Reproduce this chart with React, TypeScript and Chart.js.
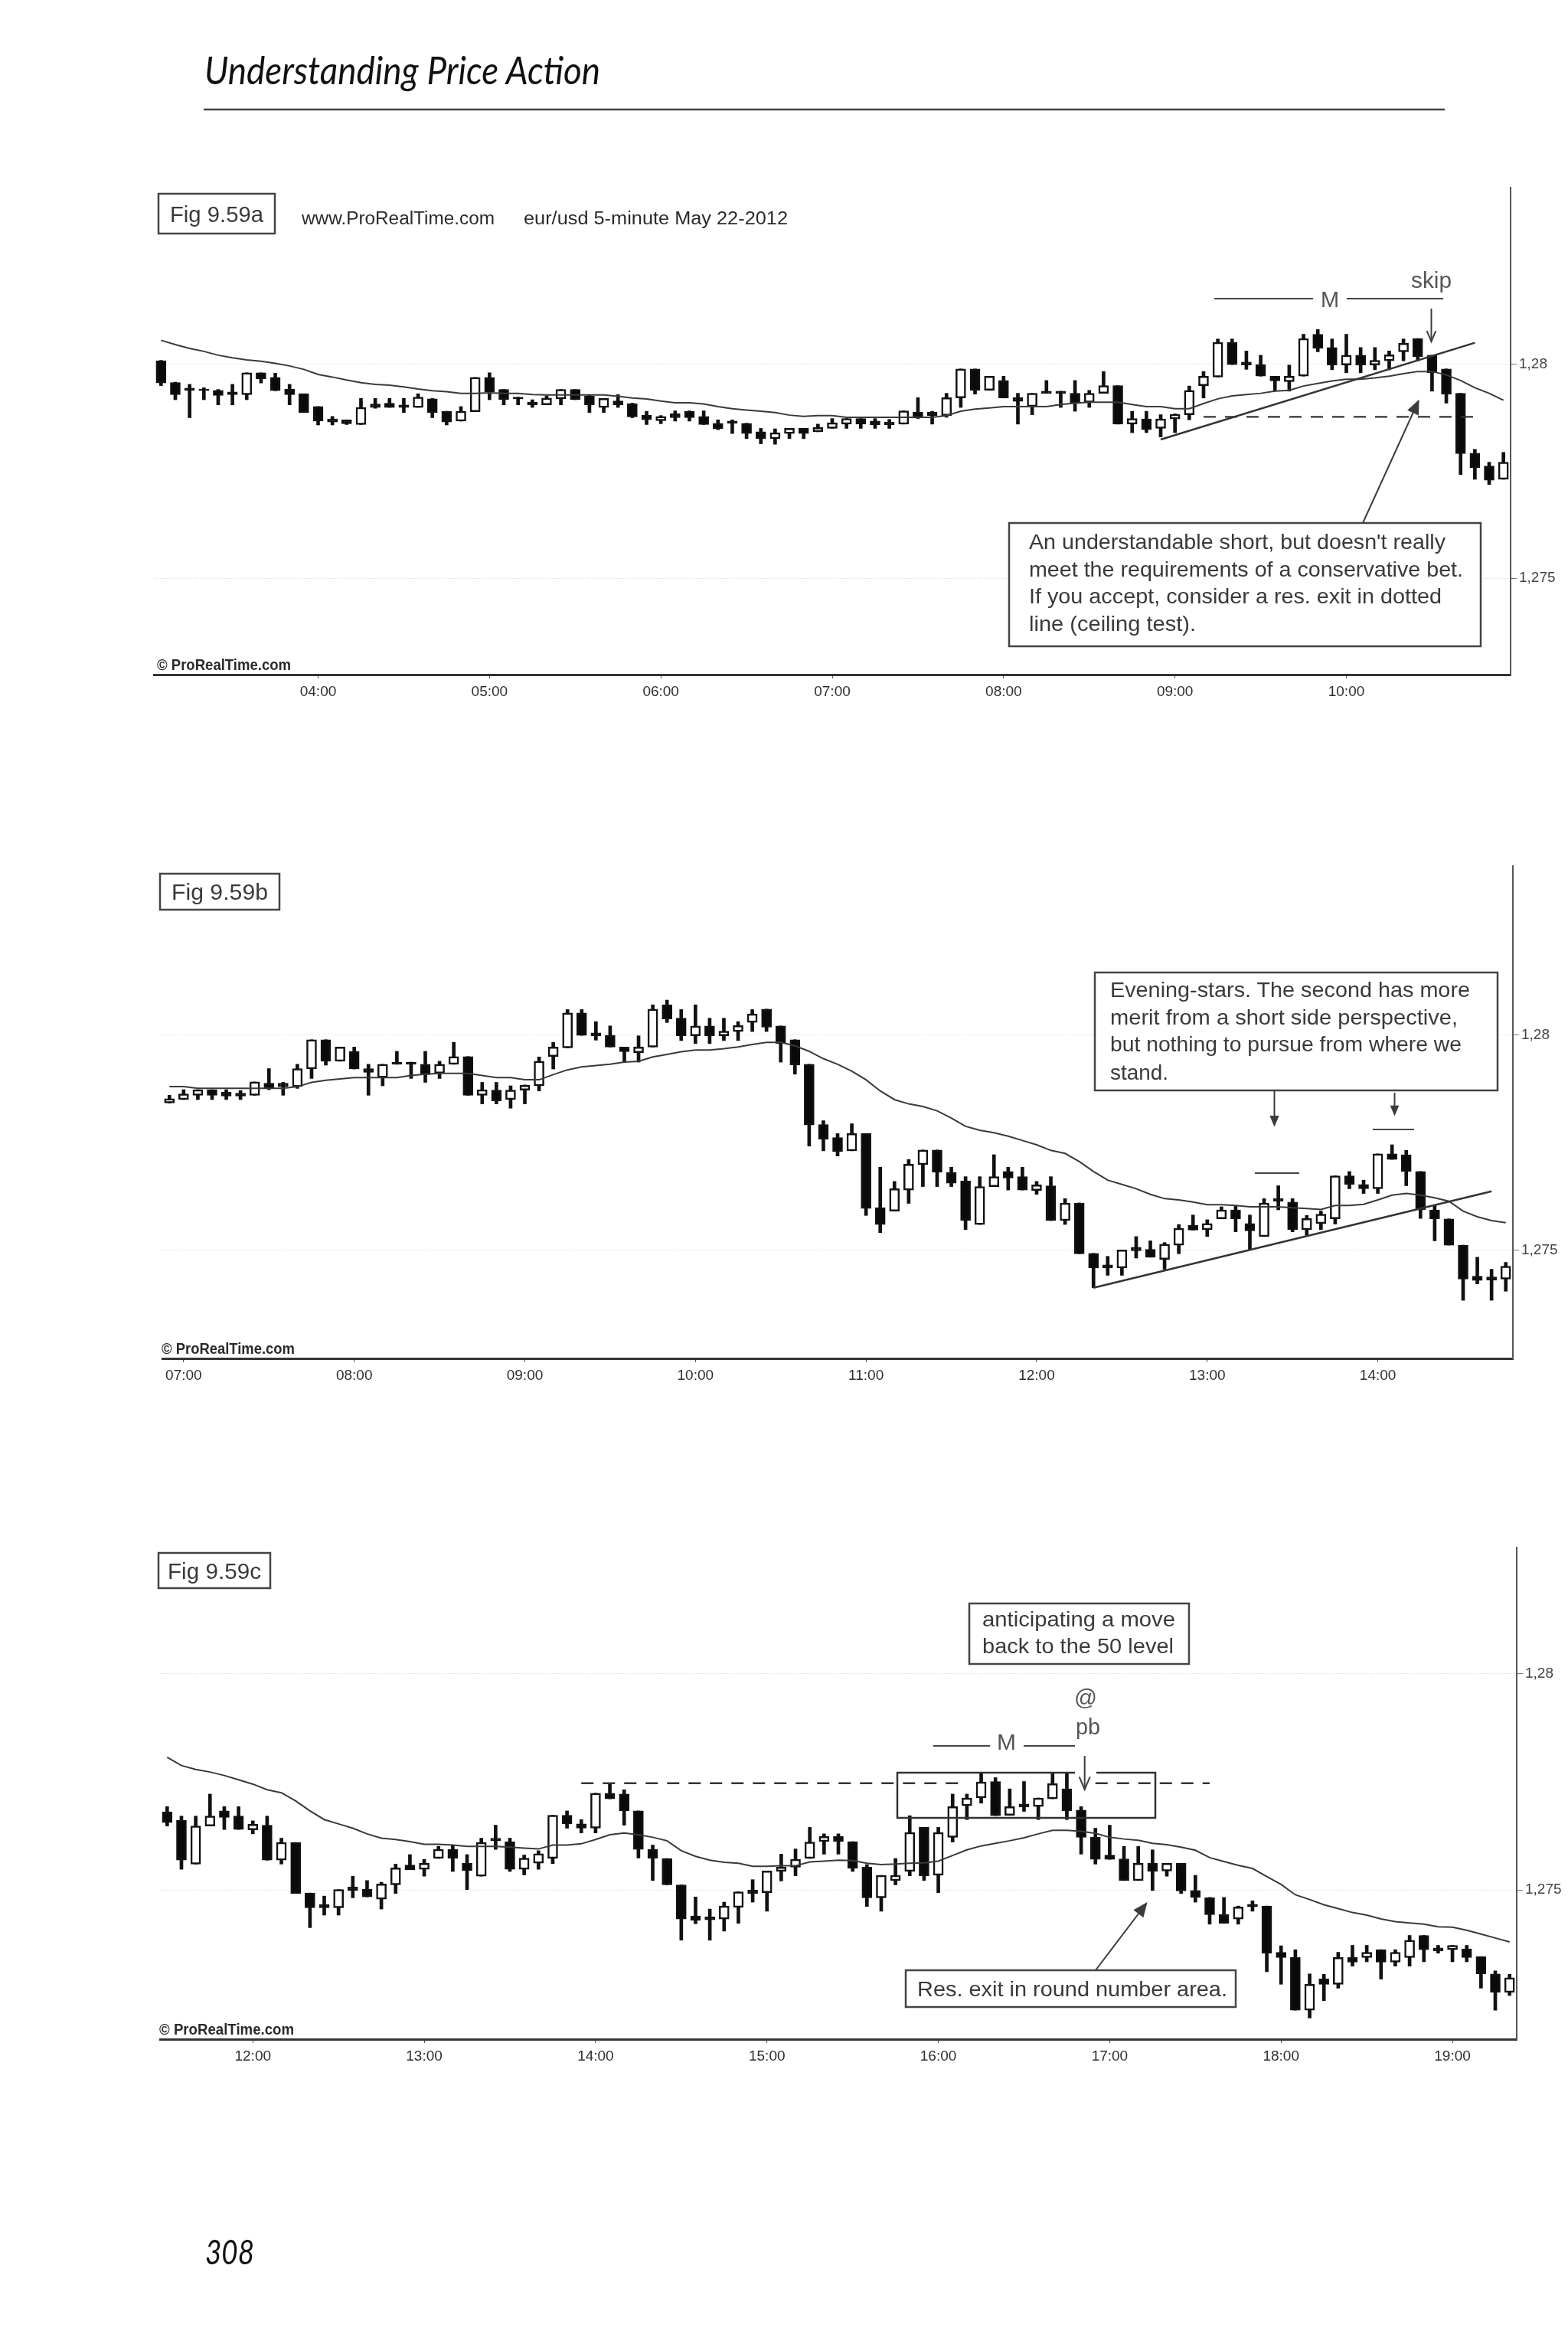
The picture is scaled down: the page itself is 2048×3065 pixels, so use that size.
import { useEffect, useRef } from 'react';
import { Chart, registerables } from 'chart.js';

Chart.register(...registerables);

// eur/usd 5-minute candles, 03:05 to 19:20. Each figure shows a 95 candle window of the same session.
const highs = [
  1.28009, 1.27958, 1.27953, 1.27945, 1.27941, 1.27953, 1.2798, 1.2798, 1.27979, 1.27953, 1.27931, 1.27901,
  1.27878, 1.2787, 1.2792, 1.2792, 1.2792, 1.2792, 1.27931, 1.2792, 1.2789, 1.27901, 1.27969, 1.2798,
  1.27941, 1.27923, 1.27917, 1.27926, 1.27941, 1.27941, 1.27929, 1.2792, 1.27929, 1.27909, 1.2789, 1.2788,
  1.27891, 1.27891, 1.27891, 1.2787, 1.2787, 1.27862, 1.2785, 1.27849, 1.2785, 1.2785,
  1.2786, 1.27873, 1.27873, 1.27873, 1.27873, 1.27871, 1.27891, 1.27922, 1.2789, 1.27932, 1.27989, 1.27989,
  1.27972, 1.27972, 1.27932, 1.27932, 1.27962, 1.27937, 1.27962, 1.27939, 1.27983, 1.2795, 1.2789, 1.2789,
  1.27882, 1.27884, 1.27949, 1.27983, 1.28059, 1.28059, 1.28031, 1.28021, 1.27972, 1.27998, 1.2807, 1.28081,
  1.28059, 1.2807, 1.28039, 1.28039, 1.28031, 1.28059, 1.2806, 1.28021, 1.27989, 1.27932, 1.27801, 1.27771,
  1.27794, 1.27771, 1.27693, 1.2766, 1.27711, 1.27733, 1.27733, 1.27693, 1.27671, 1.27671, 1.27722, 1.27693,
  1.27693, 1.2766, 1.27671, 1.2762, 1.2761, 1.27493, 1.27486, 1.27501, 1.27532, 1.27522, 1.27518, 1.2756,
  1.27582, 1.27571, 1.27601, 1.27604, 1.27582, 1.2762, 1.2765, 1.2762, 1.27581, 1.27591, 1.27673, 1.27683,
  1.27663, 1.27724, 1.27745, 1.27732, 1.27683, 1.27604, 1.27573, 1.27512, 1.27484, 1.27456, 1.27472,
  1.27496, 1.27524, 1.27544, 1.27583, 1.27595, 1.27645, 1.2763, 1.2763, 1.27612, 1.27559, 1.27534, 1.27573,
  1.27672, 1.27645, 1.27645, 1.27722, 1.27722, 1.27772, 1.2776, 1.27734, 1.27751, 1.27713, 1.27772, 1.27772,
  1.27693, 1.27643, 1.2765, 1.27601, 1.27601, 1.27593, 1.27562, 1.27562, 1.27534, 1.27483, 1.27483, 1.27463,
  1.27475, 1.27463, 1.27371, 1.27362, 1.27306, 1.27305, 1.27356, 1.27372, 1.27372, 1.27362, 1.27362, 1.27395,
  1.27395, 1.27372, 1.27372, 1.27372, 1.27346, 1.27313, 1.27305,
];

const lows = [
  1.2795, 1.27917, 1.27875, 1.27917, 1.27905, 1.27905, 1.27917, 1.27956, 1.27938, 1.27905, 1.27887, 1.27858,
  1.27858, 1.27859, 1.27859, 1.27897, 1.27899, 1.27887, 1.27899, 1.27875, 1.27858, 1.27867, 1.27889, 1.27917,
  1.27905, 1.27905, 1.27899, 1.27905, 1.27905, 1.27917, 1.27887, 1.27887, 1.27899, 1.27875, 1.27859, 1.27861,
  1.27867, 1.27867, 1.27859, 1.27847, 1.27838, 1.27826, 1.27814, 1.27813, 1.27826, 1.27826,
  1.27842, 1.2785, 1.2785, 1.2785, 1.2785, 1.2785, 1.2786, 1.27873, 1.2786, 1.27876, 1.27899, 1.2793,
  1.27939, 1.27921, 1.2786, 1.27882, 1.27932, 1.27899, 1.2789, 1.27899, 1.27932, 1.2786, 1.2784, 1.2784,
  1.2783, 1.2784, 1.2787, 1.27921, 1.2797, 1.27999, 1.27988, 1.27972, 1.27937, 1.27937, 1.27972, 1.28029,
  1.27987, 1.2798, 1.2798, 1.27987, 1.27987, 1.28008, 1.28008, 1.27937, 1.27909, 1.27742, 1.27731, 1.27719,
  1.27731, 1.27581, 1.27541, 1.27591, 1.27609, 1.27648, 1.27648, 1.27648, 1.27548, 1.2756, 1.27648, 1.2764,
  1.2764, 1.2763, 1.27569, 1.2756, 1.27492, 1.27413, 1.27442, 1.27442, 1.27482, 1.27484, 1.27456, 1.27492,
  1.27547, 1.27532, 1.27573, 1.27543, 1.27501, 1.27532, 1.27594, 1.27543, 1.27535, 1.27548, 1.27561, 1.27643,
  1.27632, 1.27632, 1.27711, 1.2765, 1.27574, 1.27522, 1.27512, 1.27384, 1.27422, 1.27384, 1.27405,
  1.27423, 1.27472, 1.27451, 1.27521, 1.27533, 1.27573, 1.27583, 1.27583, 1.27543, 1.27462, 1.27451, 1.27512,
  1.27533, 1.27522, 1.27494, 1.27611, 1.27663, 1.27701, 1.27672, 1.27673, 1.27682, 1.27663, 1.27711, 1.27663,
  1.27583, 1.2756, 1.27571, 1.27522, 1.27522, 1.27499, 1.27532, 1.27492, 1.27472, 1.27421, 1.27423, 1.27421,
  1.27451, 1.27311, 1.27282, 1.27222, 1.27204, 1.27244, 1.27273, 1.27324, 1.27334, 1.27294, 1.27324, 1.27324,
  1.27334, 1.27354, 1.27334, 1.27334, 1.27273, 1.27222, 1.27256,
];

const opens = [
  1.28008, 1.27957, 1.27944, 1.27942, 1.27939, 1.27935, 1.27929, 1.2798, 1.27969, 1.27942, 1.27931, 1.27901,
  1.27872, 1.2787, 1.27859, 1.27907, 1.27909, 1.27905, 1.27899, 1.27919, 1.2789, 1.27867, 1.27889, 1.27969,
  1.27941, 1.27923, 1.27911, 1.27905, 1.27919, 1.27941, 1.27926, 1.27899, 1.27914, 1.27908, 1.27881, 1.27868,
  1.27884, 1.2789, 1.27878, 1.27862, 1.27867, 1.27862, 1.27842, 1.27826, 1.27838, 1.2785,
  1.27842, 1.2785, 1.2786, 1.27873, 1.27867, 1.27865, 1.2786, 1.27888, 1.27888, 1.2788, 1.27921, 1.27989,
  1.27939, 1.27962, 1.27922, 1.27901, 1.27937, 1.27937, 1.27932, 1.27911, 1.27932, 1.2795, 1.2786, 1.27872,
  1.2785, 1.27872, 1.27882, 1.2795, 1.2797, 1.28051, 1.28005, 1.27999, 1.27972, 1.27959, 1.27972, 1.2807,
  1.28039, 1.27998, 1.28021, 1.27998, 1.28008, 1.28029, 1.2806, 1.28021, 1.27989, 1.27932, 1.27792, 1.27762,
  1.27731, 1.27771, 1.27599, 1.27591, 1.2764, 1.27699, 1.27733, 1.27681, 1.27661, 1.2756, 1.27648, 1.27683,
  1.27671, 1.27639, 1.2765, 1.27569, 1.2761, 1.27493, 1.27466, 1.27459, 1.27507, 1.27502, 1.27479, 1.27512,
  1.27558, 1.27548, 1.27573, 1.27594, 1.27562, 1.27532, 1.2762, 1.27612, 1.27548, 1.27562, 1.27573, 1.27673,
  1.27653, 1.27643, 1.27724, 1.27722, 1.27683, 1.27594, 1.27573, 1.27512, 1.2744, 1.27438, 1.27433,
  1.2746, 1.275, 1.27494, 1.27543, 1.27553, 1.27573, 1.27612, 1.27624, 1.27612, 1.27553, 1.27482, 1.27522,
  1.27543, 1.27645, 1.27534, 1.27622, 1.27695, 1.27713, 1.27751, 1.27673, 1.27699, 1.27693, 1.27711, 1.27734,
  1.27685, 1.27622, 1.27581, 1.27572, 1.27522, 1.27562, 1.27544, 1.27562, 1.27499, 1.27482, 1.27443, 1.27433,
  1.27467, 1.27463, 1.27356, 1.27344, 1.27222, 1.27295, 1.27282, 1.27344, 1.27344, 1.27362, 1.27333, 1.27344,
  1.27395, 1.27366, 1.27362, 1.27364, 1.27346, 1.27306, 1.27263,
];

const closes = [
  1.27956, 1.27929, 1.27939, 1.27938, 1.27927, 1.27929, 1.2798, 1.27966, 1.27938, 1.27929, 1.27887, 1.27867,
  1.27865, 1.27861, 1.27899, 1.27899, 1.27899, 1.27899, 1.27923, 1.27887, 1.27865, 1.2789, 1.27969, 1.27935,
  1.27917, 1.27919, 1.27905, 1.27921, 1.27941, 1.27917, 1.27905, 1.2792, 1.27905, 1.27877, 1.2787, 1.27878,
  1.27875, 1.27875, 1.27859, 1.27849, 1.27862, 1.27838, 1.27826, 1.2784, 1.2785, 1.27838,
  1.27852, 1.27863, 1.27873, 1.2786, 1.27858, 1.27858, 1.27891, 1.27876, 1.2788, 1.27922, 1.27989, 1.27939,
  1.27972, 1.27921, 1.27913, 1.27932, 1.27932, 1.27932, 1.27908, 1.27932, 1.2795, 1.2786, 1.27873, 1.27847,
  1.27872, 1.27883, 1.27939, 1.27972, 1.28051, 1.27999, 1.27998, 1.27972, 1.27961, 1.27972, 1.2806, 1.28037,
  1.27998, 1.28021, 1.27998, 1.28009, 1.28022, 1.28049, 1.28018, 1.2798, 1.2793, 1.27791, 1.27758, 1.27729,
  1.27771, 1.27597, 1.2756, 1.27643, 1.277, 1.27733, 1.27681, 1.27656, 1.27569, 1.27648, 1.27671, 1.27668,
  1.2764, 1.27652, 1.27569, 1.2761, 1.27492, 1.27459, 1.27459, 1.27501, 1.27499, 1.27484, 1.27514, 1.27551,
  1.27547, 1.27562, 1.27594, 1.27573, 1.27545, 1.2761, 1.27614, 1.27548, 1.27574, 1.27584, 1.27673, 1.27653,
  1.27643, 1.27724, 1.27711, 1.27683, 1.27594, 1.27573, 1.27512, 1.27433, 1.2743, 1.27431, 1.27463,
  1.27496, 1.27492, 1.27544, 1.27553, 1.27571, 1.27611, 1.27624, 1.27612, 1.2755, 1.27482, 1.27534, 1.27534,
  1.27633, 1.27533, 1.27633, 1.27693, 1.27713, 1.2775, 1.27672, 1.27693, 1.27692, 1.27713, 1.27746, 1.27683,
  1.27622, 1.27571, 1.27571, 1.27522, 1.27562, 1.27543, 1.27562, 1.27498, 1.27483, 1.27443, 1.27423, 1.27461,
  1.27461, 1.27354, 1.27344, 1.27222, 1.27282, 1.27282, 1.27344, 1.27333, 1.27356, 1.27333, 1.27356, 1.27384,
  1.27362, 1.27359, 1.27372, 1.27344, 1.27306, 1.27263, 1.27297,
];

// moving average drawn over the candles
const average = [
  1.28056, 1.28046, 1.28037, 1.2803, 1.28021, 1.28015, 1.2801, 1.28007, 1.28002, 1.27996, 1.27988, 1.27976,
  1.2797, 1.27963, 1.27957, 1.27953, 1.27951, 1.27947, 1.27942, 1.27938, 1.27936, 1.27932, 1.27932, 1.27933,
  1.27932, 1.27932, 1.27929, 1.27928, 1.27928, 1.27928, 1.27928, 1.27928, 1.27925, 1.27921, 1.27919, 1.27914,
  1.2791, 1.2791, 1.27907, 1.27901, 1.27896, 1.27893, 1.2789, 1.27887, 1.27881, 1.27878,
  1.2788, 1.2788, 1.27876, 1.27876, 1.27876, 1.27876, 1.27876, 1.27876, 1.27876, 1.2788, 1.2789, 1.27895,
  1.27898, 1.27901, 1.27901, 1.27901, 1.27901, 1.27906, 1.27909, 1.27911, 1.27911, 1.27911, 1.27906, 1.27901,
  1.27901, 1.27896, 1.27896, 1.27908, 1.27919, 1.27926, 1.27929, 1.27932, 1.27937, 1.27939, 1.27949, 1.27955,
  1.27961, 1.27965, 1.27965, 1.27968, 1.27972, 1.27978, 1.27983, 1.27983, 1.27975, 1.27962, 1.27945, 1.27932,
  1.27916, 1.27896, 1.2787, 1.2785, 1.2784, 1.27834, 1.27824, 1.27807, 1.27788, 1.27779, 1.27773, 1.27765,
  1.27755, 1.27745, 1.27732, 1.27725, 1.27706, 1.27683, 1.27663, 1.27653, 1.27643, 1.2763, 1.2762, 1.27617,
  1.27612, 1.27606, 1.27606, 1.27604, 1.27601, 1.27601, 1.27601, 1.27599, 1.27597, 1.27595, 1.27604, 1.27604,
  1.27607, 1.27617, 1.27628, 1.27632, 1.27628, 1.27622, 1.27614, 1.27591, 1.27578, 1.27569, 1.27564,
  1.27562, 1.27555, 1.27555, 1.27556, 1.27556, 1.27565, 1.27567, 1.27569, 1.27568, 1.27562, 1.27559, 1.2756,
  1.27562, 1.27563, 1.27567, 1.2758, 1.27593, 1.27602, 1.27608, 1.27614, 1.27621, 1.2763, 1.27638, 1.27638,
  1.27636, 1.27631, 1.27622, 1.27618, 1.27615, 1.27608, 1.27605, 1.27599, 1.27592, 1.27575, 1.27566, 1.27557,
  1.2755, 1.27531, 1.27513, 1.27489, 1.27478, 1.27466, 1.27457, 1.27448, 1.27442, 1.27433, 1.27427, 1.27424,
  1.27421, 1.27415, 1.27414, 1.27407, 1.27398, 1.27389, 1.2738,
];

// session times, one per candle
const times = highs.map((_, i) => {
  const minutes = 3 * 60 + 5 + i * 5;
  return String(Math.floor(minutes / 60)).padStart(2, '0') + ':' + String(minutes % 60).padStart(2, '0');
});

const priceTicks = [1.275, 1.28];

// drawn levels: candle position in the window and price at each end
const trendA = [[70, 1.27824], [92, 1.2805]];
const ceilingA = [[73, 1.27877], [92, 1.27877]];
const trendB = [[65, 1.27413], [93, 1.27637]];
const ceilingC1 = [[29, 1.27747], [56, 1.27747]];
const ceilingC2 = [[65, 1.27747], [73, 1.27747]];

const AXIS_FONT = { family: 'Liberation Sans', size: 19 };
const LEFT_PAD = 12;
const RIGHT_AXIS = 75;
const BOTTOM_AXIS = 48;

function levelData(count, points) {
  const data = new Array(count).fill(null);
  points.forEach(([i, v]) => { data[i] = v; });
  return data;
}

function levelDataset(count, points, dash) {
  return {
    type: 'line',
    data: levelData(count, points),
    borderColor: '#333333',
    borderWidth: 2.4,
    borderDash: dash,
    pointRadius: 0,
    spanGaps: true,
    tension: 0,
    order: 0,
  };
}

function CandleChart({ start, left, top, width, height, yMin, yMax, trends = [], levels = [] }) {
  const canvasRef = useRef(null);
  const end = start + 95;

  useEffect(() => {
    const ctx = canvasRef.current.getContext('2d');
    const labels = times.slice(start, end);
    const o = opens.slice(start, end);
    const c = closes.slice(start, end);

    const chart = new Chart(ctx, {
      type: 'bar',
      data: {
        labels,
        datasets: [
          ...trends.map((t) => levelDataset(labels.length, t, [])),
          ...levels.map((t) => levelDataset(labels.length, t, [16, 12])),
          {
            type: 'line',
            data: average.slice(start, end),
            borderColor: '#3a3a3a',
            borderWidth: 2,
            pointRadius: 0,
            tension: 0,
            order: 1,
          },
          {
            data: labels.map((_, i) => [o[i], c[i]]),
            backgroundColor: labels.map((_, i) => (c[i] >= o[i] ? '#ffffff' : '#0a0a0a')),
            borderColor: '#111111',
            borderWidth: 2.5,
            borderSkipped: false,
            barThickness: 13,
            grouped: false,
            order: 2,
          },
          {
            data: labels.map((_, i) => [lows[start + i], highs[start + i]]),
            backgroundColor: '#111111',
            borderWidth: 0,
            barThickness: 4,
            grouped: false,
            order: 3,
          },
        ],
      },
      options: {
        responsive: false,
        animation: false,
        layout: { padding: { left: LEFT_PAD, top: 0, right: 0, bottom: 0 } },
        plugins: { legend: { display: false }, tooltip: { enabled: false } },
        scales: {
          x: {
            afterFit: (scale) => {
              scale.height = BOTTOM_AXIS;
              scale.paddingLeft = 0;
              scale.paddingRight = 0;
            },
            afterBuildTicks: (scale) => {
              scale.ticks = scale.ticks.filter((t) => labels[t.value].endsWith(':00'));
            },
            grid: { offset: false, drawOnChartArea: false, tickLength: 5, tickColor: '#555555' },
            border: { color: '#333333', width: 3 },
            ticks: { font: AXIS_FONT, color: '#2e2e2e', autoSkip: false, maxRotation: 0, padding: 6 },
          },
          y: {
            position: 'right',
            min: yMin,
            max: yMax,
            afterFit: (scale) => {
              scale.width = RIGHT_AXIS;
              scale.paddingTop = 0;
              scale.paddingBottom = 0;
            },
            afterBuildTicks: (scale) => {
              scale.ticks = priceTicks.map((value) => ({ value }));
            },
            grid: { color: '#e2e2e2', tickLength: 8, tickColor: '#777777' },
            border: { color: '#555555', width: 2, dash: [2, 2] },
            ticks: {
              font: AXIS_FONT,
              color: '#444444',
              padding: 3,
              callback: (value) => String(value).replace('.', ','),
            },
          },
        },
      },
    });

    return () => chart.destroy();
  }, []);

  return (
    <canvas
      ref={canvasRef}
      width={width + LEFT_PAD + RIGHT_AXIS}
      height={height + BOTTOM_AXIS}
      style={{ position: 'absolute', left: left - LEFT_PAD, top, display: 'block' }}
    />
  );
}

function Label({ x, y, w, size = 28, bold = false, family = 'Liberation Sans', italic = false, fill = '#3a3a3a', children }) {
  return (
    <text
      x={x}
      y={y}
      textLength={w}
      lengthAdjust={w ? 'spacingAndGlyphs' : undefined}
      fontFamily={family}
      fontSize={size}
      fontWeight={bold ? 'bold' : 'normal'}
      fontStyle={italic ? 'italic' : 'normal'}
      fill={fill}
    >
      {children}
    </text>
  );
}

function Box({ x, y, w, h }) {
  return <rect x={x} y={y} width={w} height={h} fill="#ffffff" stroke="#444444" strokeWidth="2.5" />;
}

function Arrow({ x1, y1, x2, y2, size = 14, open = false }) {
  const a = Math.atan2(y2 - y1, x2 - x1);
  const p1 = [x2 - size * Math.cos(a - 0.4), y2 - size * Math.sin(a - 0.4)];
  const p2 = [x2 - size * Math.cos(a + 0.4), y2 - size * Math.sin(a + 0.4)];
  return (
    <g stroke="#3c3c3c" strokeWidth="2" fill="none">
      <line x1={x1} y1={y1} x2={x2} y2={y2} />
      {open
        ? <polyline points={`${p1} ${x2},${y2} ${p2}`} />
        : <polygon points={`${p1} ${x2},${y2} ${p2}`} fill="#3c3c3c" />}
    </g>
  );
}

function Rule({ x1, x2, y, width = 2, color = '#444444' }) {
  return <line x1={x1} x2={x2} y1={y} y2={y} stroke={color} strokeWidth={width} />;
}

function Notes() {
  return (
    <svg
      width="2048"
      height="3065"
      style={{ position: 'absolute', left: 0, top: 0, pointerEvents: 'none' }}
    >
      <Label x={267} y={110} w={517} size={50} family="Lato" italic fill="#111111">Understanding Price Action</Label>
      <Rule x1={266} x2={1887} y={143} width={2.5} />
      <Label x={268} y={2957} w={64} size={44} family="Lato" italic fill="#111111">308</Label>

      {/* Fig 9.59a */}
      <Box x={207} y={253} w={152} h={52} />
      <Label x={222} y={290} w={122} size={29}>Fig 9.59a</Label>
      <Label x={394} y={293} w={252} size={23} fill="#2a2a2a">www.ProRealTime.com</Label>
      <Label x={684} y={293} w={345} size={23} fill="#2a2a2a">eur/usd  5-minute  May 22-2012</Label>
      <Rule x1={1586} x2={1715} y={390} />
      <Label x={1725} y={401} size={29} fill="#555555">M</Label>
      <Rule x1={1759} x2={1885} y={390} />
      <Label x={1843} y={376} w={53} size={30} fill="#555555">skip</Label>
      <Arrow x1={1869.5} y1={403} x2={1869.5} y2={446} size={15} open />
      <Arrow x1={1780} y1={683} x2={1852.5} y2={524} size={17} />
      <Box x={1318} y={683} w={616} h={161} />
      <Label x={1344} y={717} w={544} size={28}>An understandable short, but doesn't really</Label>
      <Label x={1344} y={753} w={567} size={28}>meet the requirements of a conservative bet.</Label>
      <Label x={1344} y={788} w={539} size={28}>If you accept, consider a res. exit in dotted</Label>
      <Label x={1344} y={824} w={218} size={28}>line (ceiling test).</Label>
      <Label x={205} y={875} w={175} size={20} bold fill="#2a2a2a">© ProRealTime.com</Label>

      {/* Fig 9.59b */}
      <Box x={209} y={1141} w={156} h={47} />
      <Label x={224} y={1175} w={126} size={29}>Fig 9.59b</Label>
      <Box x={1430} y={1270} w={526} h={154} />
      <Label x={1450} y={1302} w={470} size={28}>Evening-stars. The second has more</Label>
      <Label x={1450} y={1338} w={454} size={28}>merit from a short side perspective,</Label>
      <Label x={1450} y={1373} w={459} size={28}>but nothing to pursue from where we</Label>
      <Label x={1450} y={1410} w={76} size={28}>stand.</Label>
      <Arrow x1={1664.5} y1={1424} x2={1664.5} y2={1469} size={12} />
      <Arrow x1={1821.5} y1={1427} x2={1821.5} y2={1455} size={11} />
      <Rule x1={1639} x2={1697} y={1532} />
      <Rule x1={1793} x2={1847} y={1475} />
      <Label x={211} y={1768} w={174} size={20} bold fill="#2a2a2a">© ProRealTime.com</Label>

      {/* Fig 9.59c */}
      <Box x={207} y={2028} w={146} h={46} />
      <Label x={219} y={2062} w={122} size={29}>Fig 9.59c</Label>
      <Box x={1266} y={2094} w={287} h={79} />
      <Label x={1283} y={2124} w={252} size={28}>anticipating a move</Label>
      <Label x={1283} y={2159} w={250} size={28}>back to the 50 level</Label>
      <Label x={1403} y={2227} w={30} size={30} fill="#555555">@</Label>
      <Label x={1405} y={2265} w={32} size={30} fill="#555555">pb</Label>
      <Rule x1={1219} x2={1293} y={2280} />
      <Label x={1302} y={2285} size={30} fill="#555555">M</Label>
      <Rule x1={1337} x2={1404} y={2280} />
      <Arrow x1={1416.7} y1={2293} x2={1416.7} y2={2337} size={18} open />
      <polyline
        points="1404,2315 1172,2315 1172,2374 1509,2374 1509,2315 1432,2315"
        fill="none"
        stroke="#333333"
        strokeWidth="2.5"
      />
      <Box x={1183} y={2573} w={431} h={48} />
      <Label x={1198} y={2607} w={405} size={28}>Res. exit in round number area.</Label>
      <Arrow x1={1431} y1={2573} x2={1497} y2={2486} size={17} />
      <Label x={208} y={2657} w={176} size={20} bold fill="#2a2a2a">© ProRealTime.com</Label>
    </svg>
  );
}

export default function App() {
  return (
    <div style={{ position: 'absolute', left: 0, top: 0, width: 2048, height: 3065, background: '#ffffff', overflow: 'hidden' }}>
      <CandleChart
        start={0}
        left={201}
        top={244}
        width={1772}
        height={637}
        yMin={1.272746}
        yMax={1.284145}
        trends={[trendA]}
        levels={[ceilingA]}
      />
      <CandleChart
        start={46}
        left={212}
        top={1130}
        width={1764}
        height={644}
        yMin={1.27249}
        yMax={1.28394}
        trends={[trendB]}
      />
      <CandleChart
        start={101}
        left={209}
        top={2020}
        width={1772}
        height={643}
        yMin={1.27155}
        yMax={1.28294}
        levels={[ceilingC1, ceilingC2]}
      />
      <Notes />
    </div>
  );
}
